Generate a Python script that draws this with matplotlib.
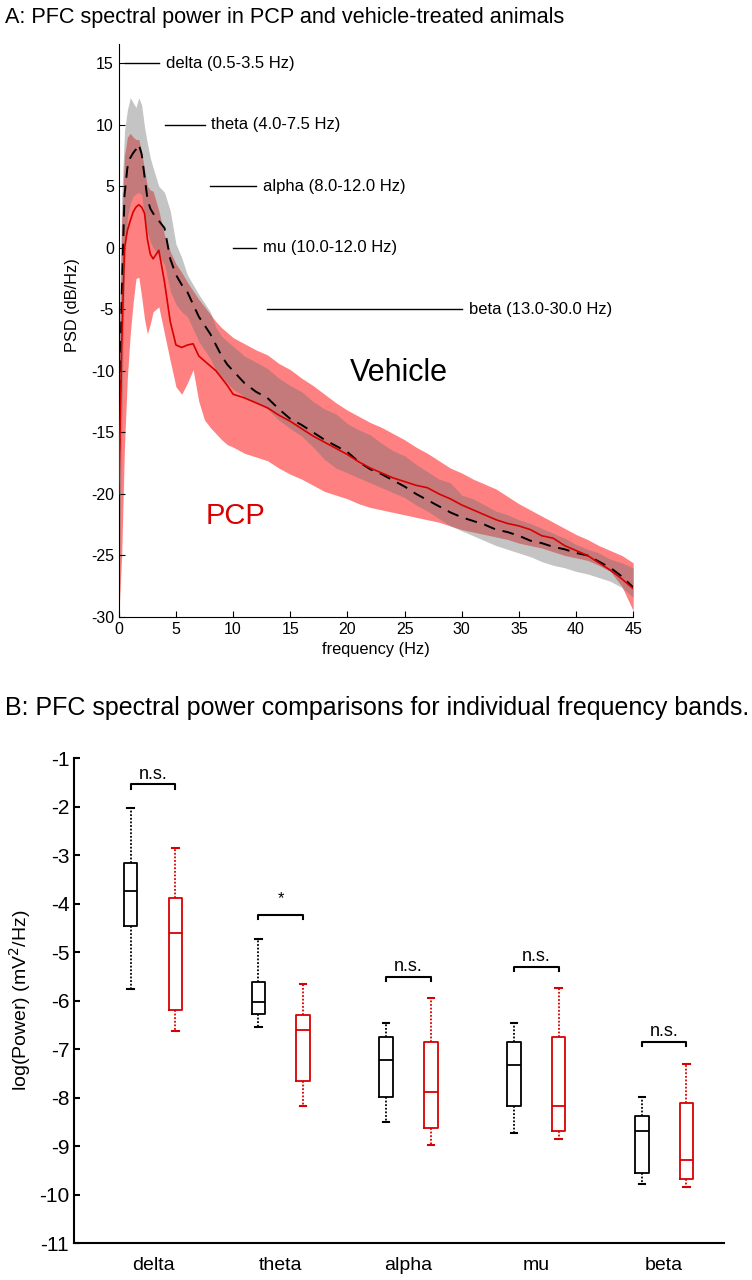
import matplotlib
matplotlib.use("Agg")
import matplotlib.pyplot as plt
import numpy as np

plt.rcParams['font.family'] = ['Liberation Sans', 'DejaVu Sans']
plt.rcParams['axes.unicode_minus'] = False

# ---------------- Panel A data ----------------
freq = [0, 0.25, 0.5, 0.75, 1.0, 1.25, 1.5, 1.75, 2.0, 2.25, 2.5, 2.75, 3.0, 3.5, 4.0, 4.5,
        5.0, 5.5, 6.0, 6.5, 7.0, 7.5, 8.0, 8.5, 9.0, 9.5, 10,
        11, 12, 13, 14, 15, 16, 17, 18, 19, 20, 21, 22, 23, 24, 25, 26, 27, 28, 29, 30,
        31, 32, 33, 34, 35, 36, 37, 38, 39, 40, 41, 42, 43, 44, 45]

veh_mean = [-18, -4, 4.3, 6.5, 7.3, 7.7, 8.0, 8.4, 7.6, 5.8, 4.0, 3.2, 2.8, 2.2, 1.6, -0.9,
            -2.2, -3.0, -3.6, -4.6, -5.6, -6.3, -7.0, -7.9, -8.8, -9.5, -10.0,
            -11.0, -11.7, -12.2, -13.1, -13.9, -14.4, -15.0, -15.6, -16.1, -16.6, -17.4, -18.0,
            -18.4, -18.9, -19.4, -20.0, -20.5, -21.0, -21.5, -21.9,
            -22.2, -22.5, -22.9, -23.1, -23.4, -23.8, -24.0, -24.3, -24.5, -24.8, -25.0, -25.5,
            -26.0, -26.7, -27.6]
veh_upper = [-8, 4, 9.5, 11.2, 12.2, 11.8, 11.4, 12.2, 11.6, 9.8, 8.5, 7.3, 6.5, 5.0, 4.5, 3.0,
             0.3, -0.8, -2.2, -3.0, -3.8, -4.5, -5.2, -6.5, -7.2, -7.6, -8.0,
             -8.8, -9.3, -9.8, -10.6, -11.2, -11.7, -12.5, -13.1, -13.5, -14.3, -14.8, -15.2,
             -15.9, -16.5, -16.9, -17.6, -18.2, -18.8, -19.1, -20.1,
             -20.4, -20.9, -21.4, -21.7, -22.1, -22.4, -22.8, -23.2, -23.6, -24.1, -24.5, -24.8,
             -25.3, -25.6, -26.0]
veh_lower = [-30, -15, -2, 2.5, 3.6, 4.2, 4.4, 4.5, 4.3, 2.5, 1.2, 0.5, 0.0, -0.6, -1.4, -3.5,
             -4.6, -5.2, -5.6, -6.6, -7.6, -8.3, -9.0, -10.0, -10.6, -11.0, -11.5,
             -12.1, -12.6, -13.1, -14.0, -14.7, -15.3, -16.2, -17.2, -17.9, -18.3, -18.7, -19.1,
             -19.5, -19.9, -20.3, -20.9, -21.4, -22.0, -22.6, -23.0,
             -23.4, -23.8, -24.2, -24.5, -24.8, -25.1, -25.5, -25.8, -26.0, -26.3, -26.5, -26.8,
             -27.1, -27.6, -28.4]

pcp_mean = [-20, -8, 0.0, 1.4, 2.2, 2.9, 3.3, 3.5, 3.3, 2.8, 0.7, -0.5, -0.9, -0.2, -2.8, -6.0,
            -7.9, -8.1, -7.9, -7.8, -8.8, -9.2, -9.6, -10.0, -10.6, -11.2, -11.9,
            -12.2, -12.6, -13.0, -13.6, -14.1, -14.7, -15.3, -15.8, -16.3, -16.8, -17.4, -17.9,
            -18.3, -18.7, -19.0, -19.3, -19.5, -20.0, -20.4, -20.9,
            -21.3, -21.7, -22.1, -22.4, -22.6, -22.9, -23.4, -23.6, -24.2, -24.6, -25.0, -25.6,
            -26.2, -26.9, -27.7]
pcp_upper = [-12, 2, 7.5, 9.0, 9.3, 9.0, 8.8, 8.8, 7.8, 6.3, 5.0, 4.7, 4.6, 3.0, 1.0, -0.3,
             -1.3, -2.0, -2.8, -3.5, -4.2, -4.8, -5.4, -6.0, -6.5, -6.9, -7.3,
             -7.8, -8.3, -8.7, -9.4, -9.9, -10.6, -11.2, -11.9, -12.6, -13.2, -13.7, -14.2,
             -14.6, -15.1, -15.6, -16.2, -16.7, -17.3, -17.9, -18.3,
             -18.8, -19.2, -19.6, -20.2, -20.8, -21.3, -21.8, -22.3, -22.8, -23.3, -23.7, -24.2,
             -24.6, -25.0, -25.6]
pcp_lower = [-30, -25, -16, -10.5, -7.0, -4.5, -2.5, -2.4, -4.0, -5.8, -7.0, -6.2, -5.2, -4.8, -7.0, -9.2,
             -11.3, -11.9, -11.0, -9.9, -12.5, -14.0, -14.6, -15.1, -15.6, -16.0, -16.2,
             -16.7, -17.0, -17.3, -17.9, -18.4, -18.8, -19.3, -19.8, -20.1, -20.4, -20.8, -21.1,
             -21.3, -21.5, -21.7, -21.9, -22.1, -22.3, -22.6, -22.9,
             -23.1, -23.3, -23.5, -23.7, -24.0, -24.2, -24.4, -24.7, -25.0, -25.2, -25.4, -25.8,
             -26.3, -27.5, -29.5]

band_names = ['delta (0.5-3.5 Hz)', 'theta (4.0-7.5 Hz)', 'alpha (8.0-12.0 Hz)',
              'mu (10.0-12.0 Hz)', 'beta (13.0-30.0 Hz)']
band_lo = [0.5, 4.0, 8.0, 10.0, 13.0]
band_hi = [3.5, 7.5, 12.0, 12.0, 30.0]
band_y = [15, 10, 5, 0, -5]

# ---------------- Panel B data ----------------
groups = ['delta', 'theta', 'alpha', 'mu', 'beta']
veh_whislo = [-5.76, -6.55, -8.49, -8.73, -9.78]
veh_q1 = [-4.45, -6.27, -7.98, -8.18, -9.56]
veh_med = [-3.73, -6.02, -7.23, -7.32, -8.68]
veh_q3 = [-3.165, -5.61, -6.74, -6.86, -8.38]
veh_whishi = [-2.02, -4.73, -6.45, -6.45, -7.98]

pcp_whislo = [-6.62, -8.18, -8.97, -8.85, -9.83]
pcp_q1 = [-6.19, -7.65, -8.62, -8.68, -9.68]
pcp_med = [-4.61, -6.60, -7.89, -8.16, -9.28]
pcp_q3 = [-3.89, -6.29, -6.86, -6.75, -8.11]
pcp_whishi = [-2.84, -5.65, -5.95, -5.74, -7.31]

sig_labels = ['n.s.', '*', 'n.s.', 'n.s.', 'n.s.']
sig_y = [-1.54, -4.23, -5.50, -5.30, -6.84]

# ---------------- Figure ----------------
fig = plt.figure(figsize=(7.52, 12.8), dpi=100)

# Panel A
axA = fig.add_axes([0.158, 0.518, 0.684, 0.448])
f = np.array(freq)
red_fill = (1.0, 0.5, 0.5)
axA.fill_between(f, pcp_lower, pcp_upper, color=red_fill, lw=0, zorder=1)
axA.fill_between(f, veh_lower, veh_upper, color=(0.45, 0.45, 0.45), alpha=0.42, lw=0, zorder=2)
axA.plot(f, veh_mean, color='black', ls=(0, (6, 4)), lw=1.4, zorder=3)
axA.plot(f, pcp_mean, color=(0.85, 0.0, 0.0), lw=1.2, zorder=4)

for name, lo, hi, y in zip(band_names, band_lo, band_hi, band_y):
    axA.plot([lo, hi], [y, y], color='black', lw=1.0, zorder=5)
    axA.text(hi + 0.6, y, name, fontsize=12, va='center', ha='left')

axA.text(20.2, -10.2, 'Vehicle', fontsize=22, va='center', ha='left', color='black')
axA.text(7.6, -21.8, 'PCP', fontsize=21, va='center', ha='left', color=(0.85, 0.0, 0.0))

axA.set_xlim(0, 45)
axA.set_ylim(-30, 16.6)
axA.set_xticks(range(0, 46, 5))
axA.set_yticks(range(-30, 16, 5))
axA.tick_params(direction='in', labelsize=11.5, length=4)
axA.spines['top'].set_visible(False)
axA.spines['right'].set_visible(False)
axA.set_xlabel('frequency (Hz)', fontsize=11.8)
axA.set_ylabel('PSD (dB/Hz)', fontsize=11.8)
axA.yaxis.set_label_coords(-0.075, 0.543)

fig.text(5 / 752, 1 - 17 / 1280, 'A: PFC spectral power in PCP and vehicle-treated animals',
         fontsize=15.6, ha='left', va='center')
fig.text(5 / 752, 1 - 708 / 1280, 'B: PFC spectral power comparisons for individual frequency bands.',
         fontsize=18.0, ha='left', va='center')

# Panel B
axB = fig.add_axes([0.0984, 0.0287, 0.8646, 0.3789])
pos = np.arange(1, len(groups) + 1)
off = 0.175
veh_stats = [dict(med=m, q1=a, q3=b, whislo=lo, whishi=hi, label='')
             for m, a, b, lo, hi in zip(veh_med, veh_q1, veh_q3, veh_whislo, veh_whishi)]
pcp_stats = [dict(med=m, q1=a, q3=b, whislo=lo, whishi=hi, label='')
             for m, a, b, lo, hi in zip(pcp_med, pcp_q1, pcp_q3, pcp_whislo, pcp_whishi)]

def draw(stats, positions, col):
    axB.bxp(stats, positions=positions, widths=0.106, showfliers=False, capwidths=0.05,
            boxprops=dict(color=col, lw=1.3),
            whiskerprops=dict(color=col, lw=1.3, ls=(0, (1, 1))),
            capprops=dict(color=col, lw=1.5),
            medianprops=dict(color=col, lw=1.3),
            manage_ticks=False)

draw(veh_stats, pos - off, 'black')
draw(pcp_stats, pos + off, (0.85, 0.0, 0.0))

for p, y, s in zip(pos, sig_y, sig_labels):
    x0, x1 = p - off, p + off
    axB.plot([x0, x0, x1, x1], [y - 0.09, y, y, y - 0.09], color='black', lw=1.5)
    if s == '*':
        axB.text(p, y + 0.18, s, fontsize=12, ha='center', va='bottom')
    else:
        axB.text(p, y + 0.04, s, fontsize=13, ha='center', va='bottom')

axB.set_xlim(0.382, 5.47)
axB.set_ylim(-11, -1)
axB.set_yticks(range(-11, 0))
axB.set_xticks(pos)
axB.set_xticklabels(groups)
axB.tick_params(axis='y', direction='in', labelsize=15, length=4, width=1.5)
axB.tick_params(axis='x', length=0, labelsize=14, pad=10)
axB.spines['top'].set_visible(False)
axB.spines['right'].set_visible(False)
axB.spines['left'].set_linewidth(1.5)
axB.spines['bottom'].set_linewidth(1.5)
axB.set_ylabel('log(Power) (mV$^2$/Hz)', fontsize=14)

fig.savefig('out.png', dpi=100)
